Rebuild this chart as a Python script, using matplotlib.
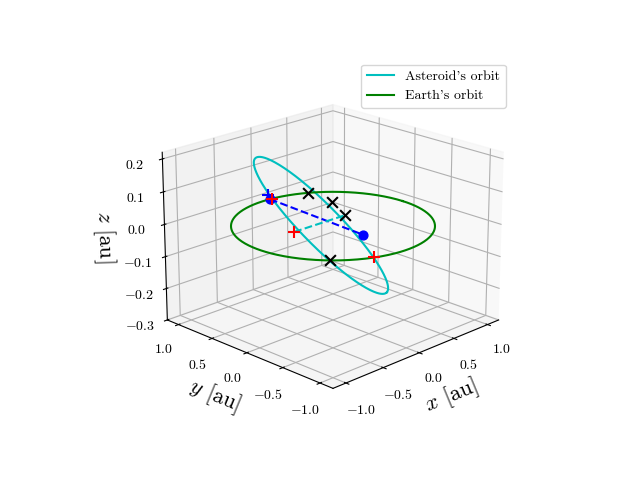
import numpy as np
import matplotlib.pyplot as plt
import matplotlib as mpl

mpl.rcParams['font.family'] = 'serif'
mpl.rcParams['font.serif'] = ['cmr10']
mpl.rcParams['mathtext.fontset'] = 'cm'
mpl.rcParams['axes.formatter.use_mathtext'] = True

# asteroid orbit: centre, semi-major and semi-minor vectors [au]
ast_center = [-0.086, 0.086, 0.0]
ast_major = [0.174, -0.739, -0.165]
ast_minor = [0.379, 0.187, 0.0]

# apsides (blue dots)
aps_x = [0.089, 0.064]
aps_y = [0.996, -0.347]
aps_z = [0.0, -0.01]

# red markers
red_x = [0.113, -0.062, -0.376]
red_y = [0.99, 0.486, -0.925]
red_z = [0.0, -0.055, 0.0]

# blue marker
blue_x = [0.064]
blue_y = [0.997]
blue_z = [0.016]

# black crosses
blk_x = [0.506, 0.205, 0.153, -0.728]
blk_y = [0.863, 0.219, -0.012, -0.687]
blk_z = [0.0, 0.038, 0.018, 0.0]

t = np.linspace(0, 2 * np.pi, 400)
c, A, B = np.array(ast_center), np.array(ast_major), np.array(ast_minor)
ast = c[:, None] + A[:, None] * np.cos(t) + B[:, None] * np.sin(t)

fig = plt.figure(figsize=(6.4, 4.8))
ax = fig.add_subplot(projection='3d')
ax.plot(ast[0], ast[1], ast[2], 'c', label="Asteroid's orbit")
ax.plot(np.cos(t), np.sin(t), np.zeros_like(t), 'g', label="Earth's orbit")

ax.plot(aps_x, aps_y, aps_z, 'b--')
ax.scatter(aps_x, aps_y, aps_z, color='b', s=40, depthshade=False)
ax.plot([red_x[1], blk_x[2]], [red_y[1], blk_y[2]], [red_z[1], blk_z[2]], 'c--')
ax.scatter(red_x, red_y, red_z, color='r', marker='+', s=70, depthshade=False)
ax.scatter(blue_x, blue_y, blue_z, color='b', marker='+', s=70, depthshade=False)
ax.scatter(blk_x, blk_y, blk_z, color='k', marker='x', s=60, linewidths=1.5, depthshade=False)

ax.set_xlim(-1.17, 1.17)
ax.set_ylim(-1.17, 1.17)
ax.set_zlim(-0.3, 0.22)
ax.set_xticks([-1.0, -0.5, 0.0, 0.5, 1.0])
ax.set_yticks([-1.0, -0.5, 0.0, 0.5, 1.0])
ax.set_zticks([-0.3, -0.2, -0.1, 0.0, 0.1, 0.2])
ax.set_xlabel(r'$x$ [au]', fontsize=16)
ax.set_ylabel(r'$y$ [au]', fontsize=16)
ax.set_zlabel(r'$z$ [au]', fontsize=16)
ax.view_init(elev=20, azim=-135)
ax.legend()
plt.savefig('out.png')
